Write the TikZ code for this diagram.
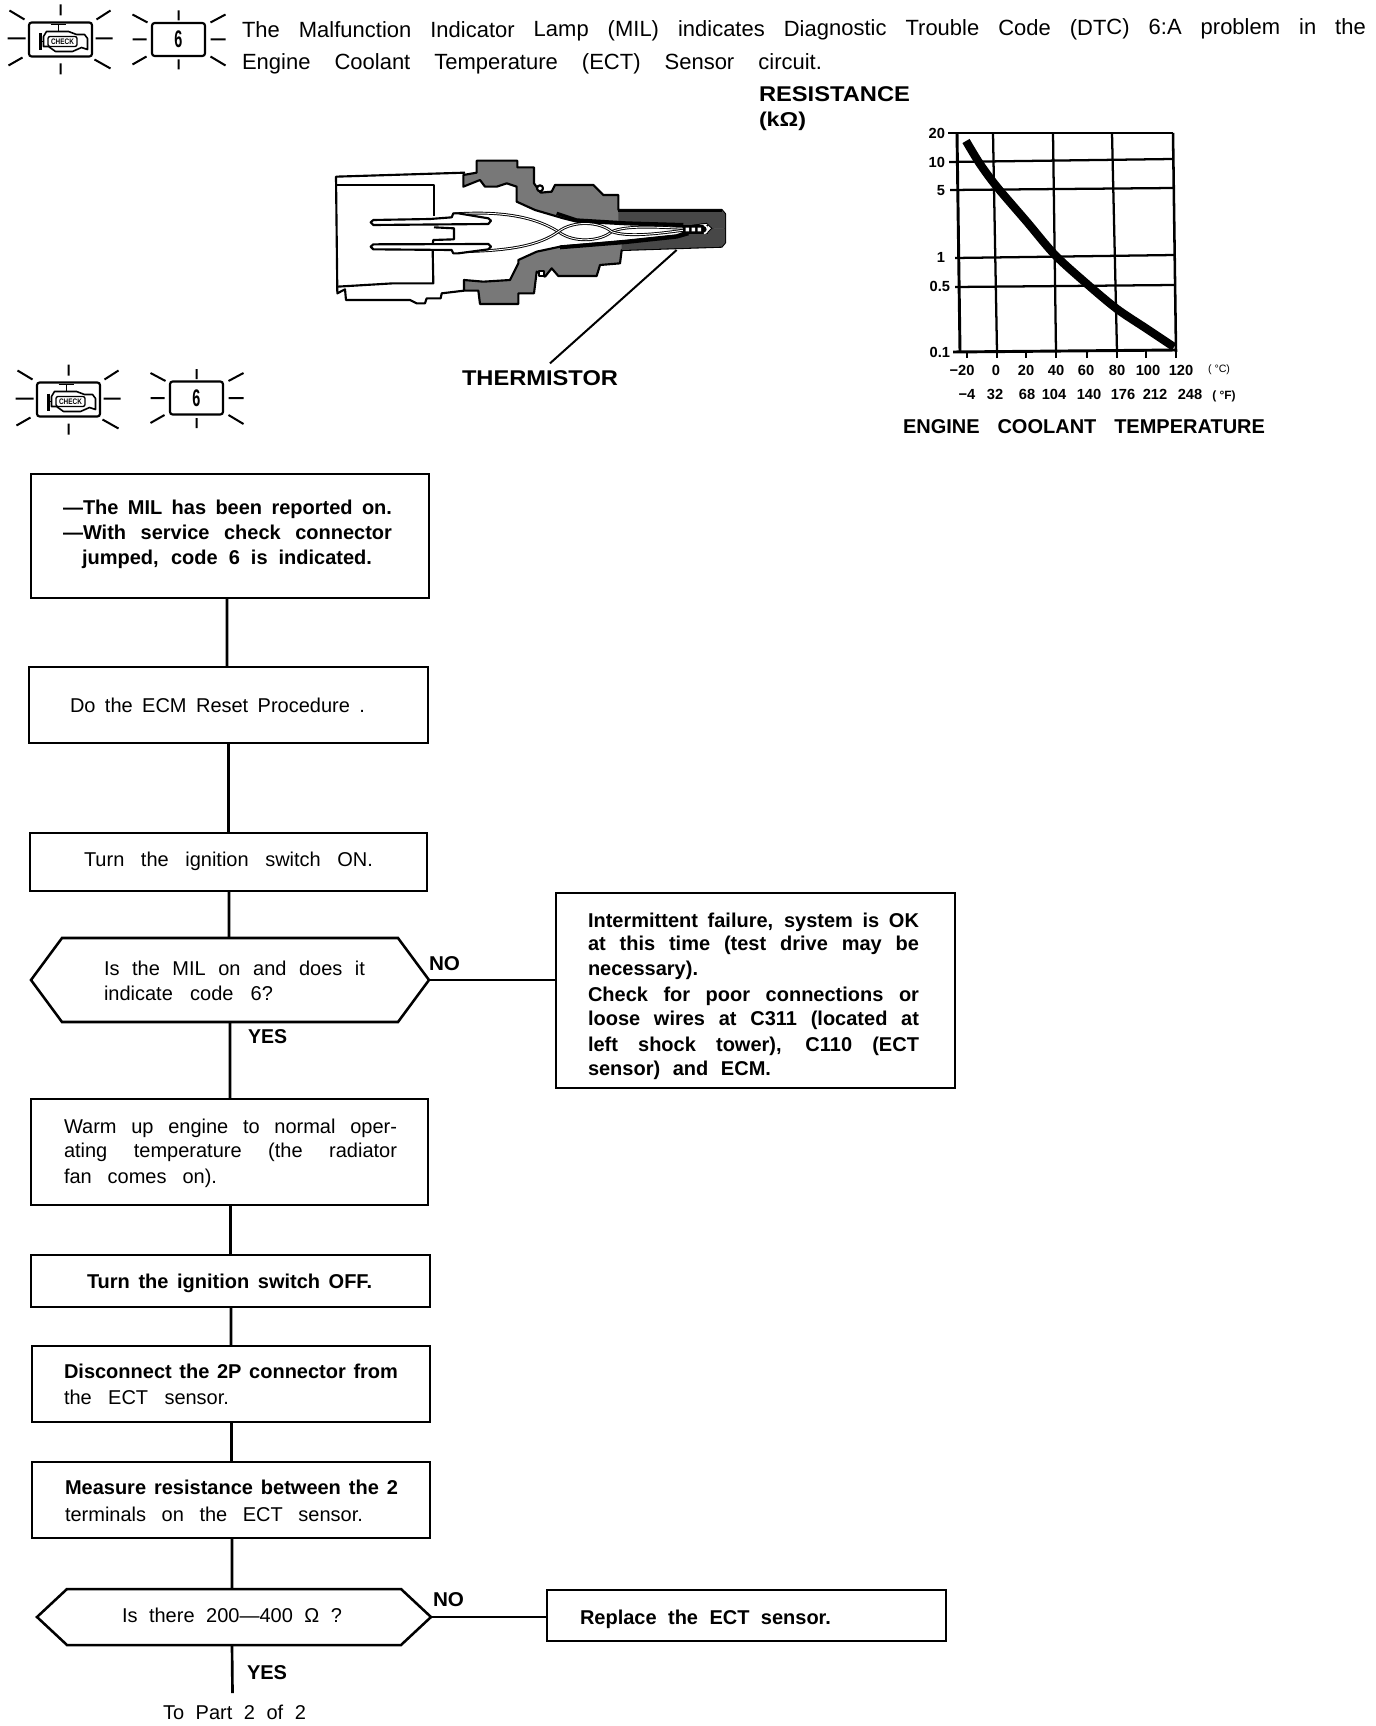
\documentclass[tikz,border=0pt]{standalone}
\usepackage{fontspec}
\usepackage{graphicx}
\setmainfont{Liberation Sans}
\usetikzlibrary{shapes.symbols}
\definecolor{stip}{gray}{0.47}
\definecolor{stipd}{gray}{0.28}
\tikzset{
  flow/.style={draw=black,line width=1.9pt,fill=white,inner sep=0pt,outer sep=0pt},
  hexa/.style={signal,signal to=west and east,signal from=nowhere,draw=black,line width=1.9pt,inner sep=0pt,outer sep=0pt},
  conn/.style={line width=2pt,draw=black},
  thinconn/.style={line width=1.3pt,draw=black},
  txt/.style={inner sep=0pt,outer sep=0pt,anchor=base west,font=\fontsize{15}{18}\selectfont},
  btxt/.style={txt,font=\fontsize{15}{18}\selectfont\bfseries},
  htxt/.style={txt,font=\fontsize{16}{18}\selectfont\bfseries},
  head/.style={txt,font=\fontsize{16.5}{20}\selectfont},
  axl/.style={inner sep=0pt,outer sep=0pt,anchor=base,font=\fontsize{11}{12}\selectfont\bfseries},
  axr/.style={axl,anchor=base east},
  ray/.style={line width=1.5pt,line cap=butt},
  grid/.style={line width=1.7pt},
  tick/.style={line width=1.7pt},
  outl/.style={line width=1.6pt,line join=round},
  wire/.style={double=white,double distance=0.7pt,line width=0.7pt},
  iconbox/.style={draw=black,line width=1.6pt,rounded corners=2pt,inner sep=0pt,outer sep=0pt,fill=white},
}
\newcommand{\boxn}[5]{\node[flow,minimum width={(#4-#2)*0.75pt},minimum height={(#5-#3)*0.75pt}] (#1) at ({(#2+#4)/2},{(#3+#5)/2}) {};}
\newcommand{\hexn}[6]{\node[hexa,signal pointer angle={2*atan(((#5-#3)/2)/#6)},minimum width={(#4-#2)*0.75pt},minimum height={(#5-#3)*0.75pt}] (#1) at ({(#2+#4)/2},{(#3+#5)/2}) {};}
\newcommand{\tx}[6][txt]{\node[#1] (#2) at (#3,#4) {\makebox[\dimexpr #5pt*3/4\relax][s]{#6}};}
\newcommand{\txf}[6][btxt]{\node[#1] (#2) at (#3,#4) {\resizebox{\dimexpr #5pt*3/4\relax}{\height}{#6}};}
\newcommand{\raysE}[2]{\begin{scope}[shift={(#1,#2)}]
 \draw[ray] (0,-35)--(0,-24) (0,24)--(0,35) (-53,-1)--(-35,-1) (35,-1)--(52,-1) (-51,-29)--(-36,-20) (36,-20)--(50,-29) (-52,26)--(-38,18) (34,20)--(50,29);
 \end{scope}}
\newcommand{\raysS}[2]{\begin{scope}[shift={(#1,#2)}]
 \draw[ray] (0,-29)--(0,-19) (0,20)--(0,30) (-46,0)--(-32,0) (32,0)--(47,0) (-46,-25)--(-31,-17) (32,-17)--(47,-25) (-46,25)--(-32,17) (32,17)--(47,26);
 \end{scope}}
\newcommand{\engine}[3]{%
 \node[iconbox,minimum width={63*0.75pt},minimum height={34*0.75pt}] (#1box) at (#2,#3) {};
 \begin{scope}[shift={(#2,#3)}]
 \draw[line width=1.2pt,line join=round] (-17,-3)--(-14,-8)--(8,-8)--(16,-5)--(24,-5)--(27,-1)--(27,10)--(21,8)--(12,12)--(-5,12)--(-12,7)--(-17,7)--cycle;
 \draw[line width=1.2pt] (-10,-15)--(5,-15) (-2,-15)--(-2,-8) (-17,2)--(-20,2);
 \draw[line width=2pt] (-20,-6)--(-20,11);
 \end{scope}
 \node[draw=black,line width=1pt,rounded corners=1.5pt,fill=white,inner sep=0pt,minimum width={29*0.75pt},minimum height={10*0.75pt},font=\fontsize{6}{6}\selectfont\bfseries] (#1chk) at ({#2+2},{#3+2}) {\scalebox{0.8}[1]{CHECK}};
}
\newcommand{\sixbox}[3]{%
 \node[iconbox,minimum width={53*0.75pt},minimum height={33*0.75pt},font=\fontsize{18}{18}\selectfont\bfseries] (#1) at (#2,#3) {\scalebox{0.6}[1]{6}};
}
\begin{document}
\begin{tikzpicture}[x=0.75pt,y=-0.75pt]
\useasboundingbox (0,0) rectangle (1376,1726);
\fill[white] (0,0) rectangle (1376,1726);

% header icons
\raysE{60.5}{39.5}\engine{ea}{60.5}{39.5}
\raysS{178.5}{39.5}\sixbox{sa}{178.5}{39.5}
\raysE{68.5}{399.5}\engine{eb}{68.5}{399.5}
\raysS{196.5}{398}\sixbox{sb}{196.5}{398}

% header text
\node[head,rotate=0.2] (h1) at (242,38) {\makebox[843pt][s]{The Malfunction Indicator Lamp (MIL) indicates Diagnostic Trouble Code (DTC) 6:A problem in the}};
\tx[head]{h2}{242}{70}{580}{Engine Coolant Temperature (ECT) Sensor circuit.}
\txf[htxt]{rest}{759}{102}{151}{RESISTANCE}
\txf[btxt]{kohm}{759}{127}{47}{(kΩ)}

% sensor
\begin{scope}[shift={(310,130)},x=0.25pt,y=-0.25pt]
 \draw[outl] (465,128)--(78,140)--(82,490)--(105,478)--(108,510)--(300,510)--(320,520)--(345,520)--(350,505)--(392,505)--(395,490)--(462,482);
 \draw[outl] (82,165)--(372,165)--(372,258);
 \draw[outl] (372,292)--(432,295)--(432,328)--(370,330)--(368,342);
 \draw[outl] (368,362)--(370,460)--(250,460)--(82,470);
 \draw[outl,fill=stip] (460,135)--(500,128)--(500,92)--(622,92)--(622,112)--(672,112)--(672,160)--(692,188)--(725,185)--(735,165)--(850,165)--(880,195)--(925,195)--(925,240)--(1235,240)--(1245,252)--(1245,338)--(1235,350)--(935,360)--(930,400)--(870,405)--(860,438)--(745,438)--(725,415)--(705,440)--(680,425)--(672,490)--(625,490)--(625,522)--(510,522)--(505,482)--(462,482)--(462,450)--(520,455)--(600,450)--(625,400)--(625,390)--(680,365)--(750,350)--(950,332)--(1100,316)--(1130,305)--(1190,312)--(1208,295)--(1190,278)--(1120,288)--(950,283)--(800,275)--(760,265)--(675,240)--(620,215)--(620,170)--(590,160)--(560,170)--(525,170)--(510,150)--(460,170)--cycle;
 \fill[stipd] (925,240)--(1235,240)--(1245,252)--(1245,295)--(1208,295)--(1190,278)--(1120,288)--(950,283)--(925,280)--cycle;
 \fill[stipd] (1245,295)--(1245,338)--(1235,350)--(935,360)--(935,333)--(1100,316)--(1130,305)--(1190,312)--(1208,295)--cycle;
 \draw[line width=3pt] (750,352)--(950,336)--(1100,320)--(1135,310);
 \draw[line width=2.5pt] (740,250)--(800,270)--(950,279)--(1120,284);
 \draw[line width=1.8pt] (925,243)--(1235,243);
 \draw[outl,fill=white] (690,175) circle (9);
 \draw[outl,fill=white] (686,422) rectangle (703,438);
 \draw[wire] (430,252) .. controls (600,240) and (690,270) .. (745,305) .. controls (790,340) and (870,335) .. (905,305) .. controls (950,285) and (1040,292) .. (1125,295);
 \draw[wire] (430,365) .. controls (600,365) and (690,345) .. (745,305) .. controls (790,270) and (870,275) .. (905,305) .. controls (950,322) and (1040,312) .. (1125,300);
 \draw[outl,fill=white] (182,277)--(190,270)--(360,267)--(425,262)--(430,250)--(445,250)--(535,265)--(543,272)--(535,282)--(190,285)--cycle;
 \draw[outl,fill=white] (182,350)--(190,343)--(535,342)--(543,350)--(535,358)--(445,370)--(430,370)--(425,360)--(190,358)--cycle;
 \fill[black] (1120,285) rectangle (1195,312);
 \fill[white] (1127,293) rectangle (1137,304) (1145,293) rectangle (1155,304) (1163,293) rectangle (1173,304);
 \draw[white,line width=1.2pt] (1182,285) arc[start angle=-80,end angle=80,radius=13];
 \coordinate (thtip) at (1100,360);
 \coordinate (thend) at (720,700);
 \draw[line width=1.5pt] (thtip)--(thend);
\end{scope}
\txf[htxt]{therm}{462}{385}{156}{THERMISTOR}

% chart
\draw[grid] (948,133)--(1173,133);
\draw[grid] (949,162)--(1173,159);
\draw[grid] (950,190)--(1174,188);
\draw[grid] (955,258)--(1175,255);
\draw[grid] (955,287)--(1175,285);
\draw[line width=2.2pt] (953,352)--(1176,350);
\draw[line width=2.2pt] (957,133)--(960,352);
\draw[line width=1.9pt] (1173,133)--(1176,352);
\draw[grid] (993,133)--(997,352);
\draw[grid] (1053,133)--(1056,352);
\draw[grid] (1112,133)--(1117,352);
\foreach \n/\xx in {a/967,b/997,c/1026,d/1056,e/1087,f/1117,g/1146,h/1176}{\draw[tick] (\xx,351)--(\xx,358);}
\draw[line width=6.2pt,line cap=butt] plot[smooth] coordinates {(966,141) (980,164) (997,187) (1027,222) (1055,255) (1087,284) (1117,309) (1147,329) (1174,347)};
\node[axr] (y20) at (945,139) {20};
\node[axr] (y10) at (945,168) {10};
\node[axr] (y5) at (945,196) {5};
\node[axr] (y1) at (945,263) {1};
\node[axr] (y05) at (950,292) {0.5};
\node[axr] (y01) at (950,357) {0.1};
\node[axl] (c1) at (962,375) {−20};
\node[axl] (c2) at (996,375) {0};
\node[axl] (c3) at (1026,375) {20};
\node[axl] (c4) at (1056,375) {40};
\node[axl] (c5) at (1086,375) {60};
\node[axl] (c6) at (1117,375) {80};
\node[axl] (c7) at (1148,375) {100};
\node[axl] (c8) at (1181,375) {120};
\node[axl,font=\fontsize{8}{10}\selectfont] (c9) at (1219,373) {( °C)};
\node[axl] (f1) at (967,399) {−4};
\node[axl] (f2) at (995,399) {32};
\node[axl] (f3) at (1027,399) {68};
\node[axl] (f4) at (1054,399) {104};
\node[axl] (f5) at (1089,399) {140};
\node[axl] (f6) at (1123,399) {176};
\node[axl] (f7) at (1155,399) {212};
\node[axl] (f8) at (1190,399) {248};
\node[axl,font=\fontsize{9}{10}\selectfont\bfseries] (f9) at (1224,399) {( °F)};
\tx[btxt]{ect}{903}{433}{362}{ENGINE COOLANT TEMPERATURE}

% flowchart boxes
\boxn{b1}{31}{474}{429}{598}
\boxn{b2}{29}{667}{428}{743}
\boxn{b3}{30}{833}{427}{891}
\hexn{d1}{31}{938}{429}{1022}{31}
\boxn{nob}{556}{893}{955}{1088}
\boxn{b4}{31}{1099}{428}{1205}
\boxn{b5}{31}{1255}{430}{1307}
\boxn{b6}{32}{1346}{430}{1422}
\boxn{b7}{32}{1462}{430}{1538}
\hexn{d2}{37}{1589}{431}{1645}{30}
\boxn{rep}{547}{1590}{946}{1641}

% connectors
\draw[conn] ([xshift=-2.2pt]b1.south)--([xshift=-1.1pt]b2.north);
\draw[conn] (b2.south)--(b3.north);
\draw[conn] ([xshift=0.4pt]b3.south)--([xshift=-0.7pt]d1.north);
\draw[conn] ([xshift=0pt]d1.south)--([xshift=0.4pt]b4.north);
\draw[conn] ([xshift=0.8pt]b4.south)--(b5.north);
\draw[conn] ([xshift=0.4pt]b5.south)--(b6.north);
\draw[conn] ([xshift=0.4pt]b6.south)--([xshift=0.4pt]b7.north);
\draw[conn] ([xshift=0.8pt]b7.south)--([xshift=-1.5pt]d2.north);
\coordinate (dout) at (232.5,1693);
\draw[conn] ([xshift=-1.5pt]d2.south)--(dout);
\draw[thinconn] (d1.east)--(d1.east -| nob.west);
\draw[thinconn] (d2.east)--(d2.east -| rep.west);

% flowchart text
\tx[btxt]{t11}{63}{514}{329}{—The MIL has been reported on.}
\tx[btxt]{t12}{63}{539}{329}{—With service check connector}
\tx[btxt]{t13}{82}{564}{290}{jumped, code 6 is indicated.}
\tx{t21}{70}{712}{295}{Do the ECM Reset Procedure .}
\tx{t31}{84}{866}{289}{Turn the ignition switch ON.}
\tx{td11}{104}{975}{261}{Is the MIL on and does it}
\tx{td12}{104}{1000}{169}{indicate code 6?}
\txf{no1}{429}{970}{31}{NO}
\txf{yes1}{248}{1043}{39}{YES}
\tx{t41}{64}{1133}{333}{Warm up engine to normal oper-}
\tx{t42}{64}{1157}{333}{ating temperature (the radiator}
\tx{t43}{64}{1183}{153}{fan comes on).}
\tx[btxt]{t51}{87}{1288}{285}{Turn the ignition switch OFF.}
\tx[btxt]{t61}{64}{1378}{334}{Disconnect the 2P connector from}
\tx{t62}{64}{1404}{165}{the ECT sensor.}
\tx[btxt]{t71}{65}{1494}{333}{Measure resistance between the 2}
\tx{t72}{65}{1521}{298}{terminals on the ECT sensor.}
\tx{td21}{122}{1622}{220}{Is there 200—400 Ω ?}
\txf{no2}{433}{1606}{31}{NO}
\txf{yes2}{247}{1679}{40}{YES}
\tx{part}{163}{1719}{143}{To Part 2 of 2}
\tx[btxt]{n1}{588}{927}{331}{Intermittent failure, system is OK}
\tx[btxt]{n2}{588}{950}{331}{at this time (test drive may be}
\tx[btxt]{n3}{588}{975}{117}{necessary).}
\tx[btxt]{n4}{588}{1001}{331}{Check for poor connections or}
\tx[btxt]{n5}{588}{1025}{331}{loose wires at C311 (located at}
\tx[btxt]{n6}{588}{1051}{331}{left shock tower), C110 (ECT}
\tx[btxt]{n7}{588}{1075}{183}{sensor) and ECM.}
\tx[btxt]{r1}{580}{1624}{251}{Replace the ECT sensor.}
\end{tikzpicture}
\end{document}
